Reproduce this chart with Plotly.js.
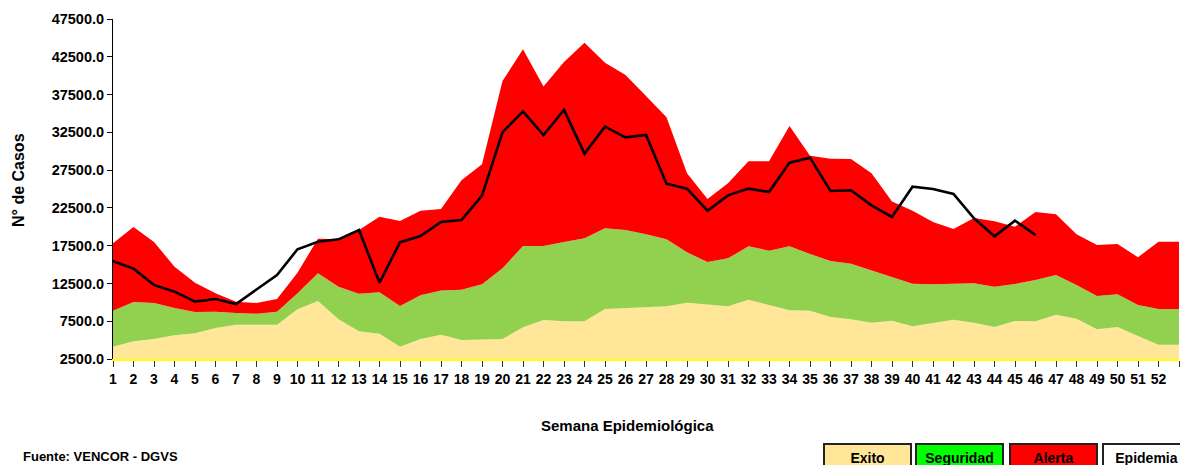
<!DOCTYPE html>
<html>
<head>
<meta charset="utf-8">
<script src="https://cdn.plot.ly/plotly-3.0.1.min.js"></script>
<style>
html,body{margin:0;padding:0;background:#fff;}
#chart{width:1180px;height:465px;}
</style>
</head>
<body>
<div id="chart"></div>
<script>
const weeks = [1,2,3,4,5,6,7,8,9,10,11,12,13,14,15,16,17,18,19,20,21,22,23,24,25,26,27,28,29,30,31,32,33,34,35,36,37,38,39,40,41,42,43,44,45,46,47,48,49,50,51,52,53];
const tickLabels = ["1","2","3","4","5","6","7","8","9","10","11","12","13","14","15","16","17","18","19","20","21","22","23","24","25","26","27","28","29","30","31","32","33","34","35","36","37","38","39","40","41","42","43","44","45","46","47","48","49","50","51","52",""];
const exito = [4130,4840,5150,5630,5900,6600,7040,7040,7040,9070,10180,7750,6160,5850,4130,5150,5720,5020,5100,5150,6690,7660,7490,7490,9120,9250,9380,9470,9960,9690,9470,10350,9690,8940,8900,8060,7750,7310,7570,6820,7270,7710,7310,6740,7530,7490,8370,7840,6430,6740,5540,4400,4400];
const seguridad = [8900,10050,9910,9250,8720,8770,8590,8500,8770,11190,13840,12070,11150,11320,9520,10930,11550,11680,12380,14500,17460,17460,17990,18470,19800,19580,19000,18340,16620,15340,15820,17410,16840,17410,16400,15470,15120,14240,13440,12470,12380,12470,12520,12070,12430,12960,13620,12300,10840,11060,9650,9120,9120];
const alerta = [17810,19970,17990,14720,12600,11190,10090,9910,10440,13930,18430,18340,19580,21340,20770,22130,22350,26150,28270,39300,43490,38550,41810,44370,41720,40090,37310,34490,27080,23680,25750,28660,28660,33340,29410,29020,28970,27080,23330,22130,20630,19710,21160,20720,20020,21960,21650,19000,17590,17720,15960,18030,18030];
const epidemia = [15470,14460,12300,11410,10090,10440,9780,11720,13620,17020,18030,18340,19580,12600,17940,18780,20630,20900,24120,32500,35280,32150,35460,29680,33250,31840,32150,25710,25050,22130,24160,25050,24600,28490,29150,24740,24830,22840,21300,25310,25000,24340,21120,18740,20810,18910];
const yTicks = [2500,7500,12500,17500,22500,27500,32500,37500,42500,47500];

const FONT = 'Liberation Sans, Arial, sans-serif';

const traces = [
  {x: weeks, y: exito, type:'scatter', mode:'lines', fill:'tozeroy', fillcolor:'#FFE699', line:{width:0, color:'#FFE699'}, hoverinfo:'skip', name:'Exito'},
  {x: weeks, y: seguridad, type:'scatter', mode:'lines', fill:'tonexty', fillcolor:'#92D050', line:{width:0, color:'#92D050'}, hoverinfo:'skip', name:'Seguridad'},
  {x: weeks, y: alerta, type:'scatter', mode:'lines', fill:'tonexty', fillcolor:'#FF0000', line:{width:0, color:'#FF0000'}, hoverinfo:'skip', name:'Alerta'},
  {x: weeks.slice(0, epidemia.length), y: epidemia, type:'scatter', mode:'lines', line:{width:2.6, color:'#000000'}, hoverinfo:'skip', name:'Epidemia'}
];

const W = 1180, H = 465, ML = 113, MR = 1, MT = 19, MB = 106;
const PW = W - ML - MR, PH = H - MT - MB;
const px = v => (v - ML) / PW;
const py = v => (H - MB - v) / PH;

function box(text, x0, color) {
  return {xref:'paper', yref:'paper', x: px(x0), y: py(443), xanchor:'left', yanchor:'top',
    text: text, showarrow:false, width: 85, height: 26, bgcolor: color, bordercolor:'#222',
    borderwidth: 2, borderpad: 0, valign:'middle', align:'center',
    font:{family:FONT, size:14, color:'#000', weight:'bold'}};
}

const layout = {
  width: W, height: H,
  margin: {l: ML, r: MR, t: MT, b: MB, pad: 0},
  paper_bgcolor: '#fff', plot_bgcolor: '#fff',
  showlegend: false,
  xaxis: {
    range: [1, 53], tickmode: 'array', tickvals: weeks, ticktext: tickLabels,
    showgrid: false, zeroline: false, showline: true, linecolor: '#FFFF00', linewidth: 2,
    ticks: 'outside', ticklen: 6, tickcolor: '#333', tickwidth: 1, tickangle: 0,
    tickfont: {family: FONT, size: 14, color: '#000', weight: 'bold'}, fixedrange: true
  },
  yaxis: {
    range: [2500, 47500], tickmode: 'array', tickvals: yTicks, tickformat: '.1f',
    showgrid: false, zeroline: false, showline: true, linecolor: '#000', linewidth: 1,
    ticks: 'outside', ticklen: 5, tickcolor: '#000',
    tickfont: {family: FONT, size: 14.5, color: '#000', weight: 'bold'}, fixedrange: true
  },
  annotations: [
    {xref:'paper', yref:'paper', x: px(18), y: py(180), text:'N° de Casos', textangle:-90, showarrow:false,
     xanchor:'center', yanchor:'middle', font:{family:FONT, size:16, color:'#000', weight:'bold'}},
    {xref:'paper', yref:'paper', x: px(627), y: py(425), text:'Semana Epidemiológica', showarrow:false,
     xanchor:'center', yanchor:'middle', font:{family:FONT, size:15, color:'#000', weight:'bold'}},
    {xref:'paper', yref:'paper', x: px(22), y: py(465), text:'Fuente: VENCOR - DGVS', showarrow:false,
     xanchor:'left', yanchor:'bottom', borderpad:0, font:{family:FONT, size:13, color:'#000', weight:'bold'}},
    box('Exito', 823, '#FFE699'),
    box('Seguridad', 915, '#00FF00'),
    box('Alerta', 1009, '#FF0000'),
    box('Epidemia', 1102, '#FFFFFF')
  ]
};

Plotly.newPlot('chart', traces, layout, {staticPlot: true, displayModeBar: false});
</script>
</body>
</html>
